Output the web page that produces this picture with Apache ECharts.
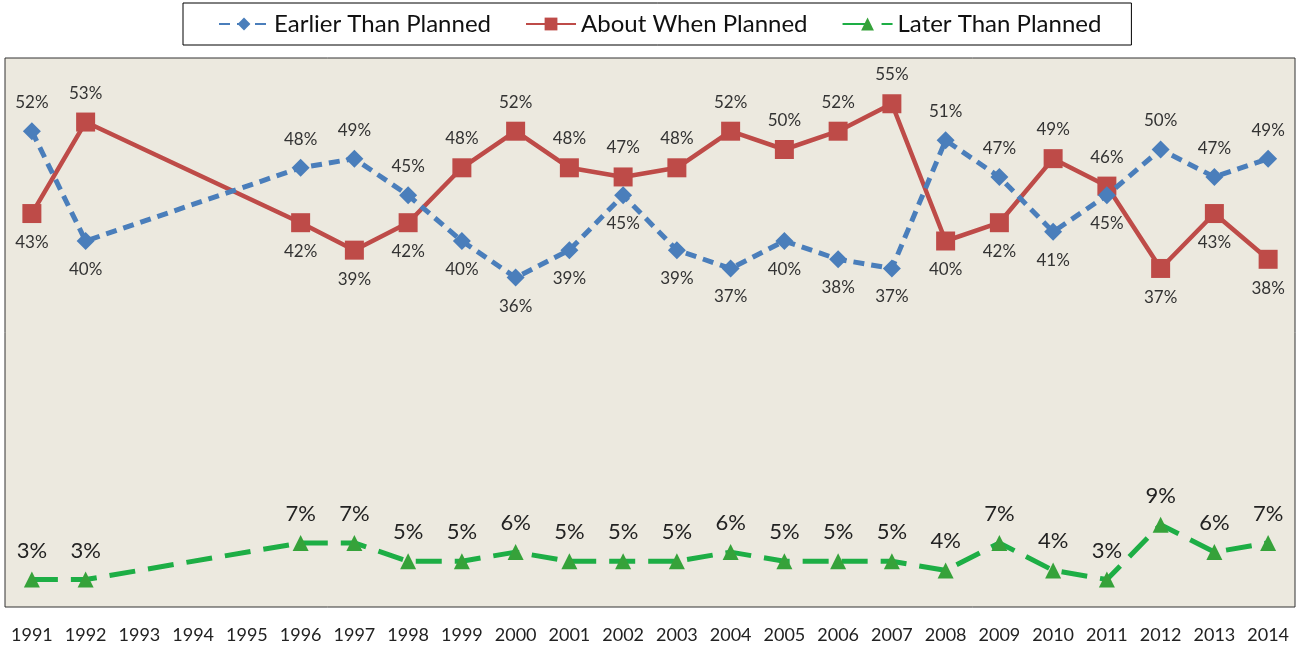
<!DOCTYPE html>
<html>
<head>
<meta charset="utf-8">
<script src="https://cdn.jsdelivr.net/npm/echarts@6/dist/echarts.min.js"></script>
<style>
  html, body { margin: 0; padding: 0; background: #fff; }
  #myCharts { width: 1298px; height: 650px; }
</style>
</head>
<body>
<div id="myCharts"></div>
<script>
// years on the x axis (1993-1995 have no survey)
var years = ["1991","1992","1993","1994","1995","1996","1997","1998","1999","2000","2001","2002",
  "2003","2004","2005","2006","2007","2008","2009","2010","2011","2012","2013","2014"];
var earlier = [52,40,null,null,null,48,49,45,40,36,39,45,39,37,40,38,37,51,47,41,45,50,47,49];
var about   = [43,53,null,null,null,42,39,42,48,52,48,47,48,52,50,52,55,40,42,49,46,37,43,38];
var later   = [3,3,null,null,null,7,7,5,5,6,5,5,5,6,5,5,5,4,7,4,3,9,6,7];

// where each label sits (t = above, b = below)
var earlierPos = "tb---tttbbbbbbbbbttbbttt";
var aboutPos   = "bt---bbbtttttttttbbttbbb";

function withLabels(vals, pos) {
  return vals.map(function (v, i) {
    if (v === null) return null;
    return { value: v, label: { position: pos[i] === "t" ? "top" : "bottom" } };
  });
}

var chart = echarts.init(document.getElementById("myCharts"));
var font = "Lato, 'Open Sans', sans-serif";
chart.setOption({
  animation: false,
  textStyle: { fontFamily: font },
  legend: {
    left: 183, top: 3,
    padding: [9, 30, 9, 35],
    borderColor: "#000", borderWidth: 1,
    itemWidth: 50, itemHeight: 16, itemGap: 34,
    textStyle: { fontSize: 24, color: "#111", fontFamily: font },
    data: ["Earlier Than Planned", "About When Planned", "Later Than Planned"]
  },
  grid: {
    left: 5, right: 3, top: 58, bottom: 43,
    show: true, backgroundColor: "#ECE9DF", borderColor: "#333", borderWidth: 1
  },
  xAxis: {
    type: "category",
    boundaryGap: true,
    data: years,
    axisLine: { show: false },
    axisTick: { show: false },
    axisLabel: { fontSize: 18, color: "#222", margin: 19, interval: 0 }
  },
  yAxis: {
    type: "value", min: 0, max: 60,
    show: false,
    splitLine: { show: false }
  },
  series: [
    {
      name: "Earlier Than Planned", type: "line",
      data: withLabels(earlier, earlierPos),
      connectNulls: true,
      symbol: "diamond", symbolSize: 18,
      lineStyle: { color: "#4A7EBB", width: 5, type: [11, 7] },
      itemStyle: { color: "#4A7EBB" },
      label: { show: true, formatter: "{c}%", fontSize: 17, color: "#333", distance: 11 },
      z: 3
    },
    {
      name: "About When Planned", type: "line",
      data: withLabels(about, aboutPos),
      connectNulls: true,
      symbol: "rect", symbolSize: 19,
      lineStyle: { color: "#BE4B48", width: 4.5 },
      itemStyle: { color: "#BE4B48" },
      label: { show: true, formatter: "{c}%", fontSize: 17, color: "#333", distance: 11 },
      z: 2
    },
    {
      name: "Later Than Planned", type: "line",
      data: later,
      connectNulls: true,
      symbol: "triangle", symbolSize: 16,
      lineStyle: { color: "#1DAE45", width: 5, type: [26, 13] },
      itemStyle: { color: "#36A23A" },
      label: { show: true, position: "top", formatter: "{c}%", fontSize: 22, color: "#222", distance: 10 },
      z: 4
    }
  ]
});
</script>
</body>
</html>
